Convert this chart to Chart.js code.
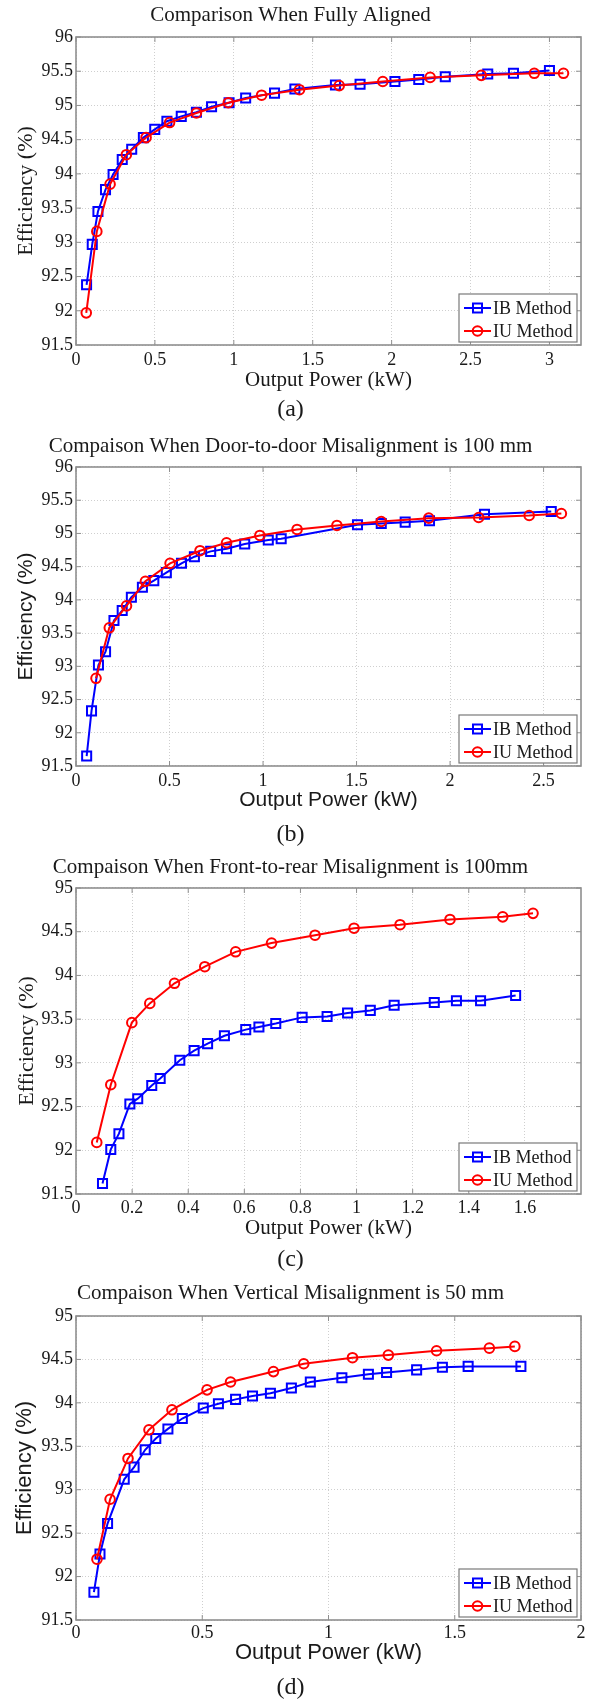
<!DOCTYPE html>
<html><head><meta charset="utf-8">
<script src="https://cdn.jsdelivr.net/npm/chart.js@4.4.1/dist/chart.umd.min.js"></script>
<style>
html,body{margin:0;padding:0;background:#fff;}
body{width:595px;height:1701px;position:relative;overflow:hidden;}
.panel{position:absolute;left:0;width:595px;}
</style></head><body>
<div class="panel" id="pa"><canvas id="ca"></canvas></div>
<div class="panel" id="pb"><canvas id="cb"></canvas></div>
<div class="panel" id="pc"><canvas id="cc"></canvas></div>
<div class="panel" id="pd"><canvas id="cd"></canvas></div>
<script>
// ---------- DATA ----------
const seriesNames = ['IB Method', 'IU Method'];
const xAxisTitle = 'Output Power (kW)';
const yAxisTitle = 'Efficiency (%)';

const titleA = 'Comparison When Fully Aligned';
const titleB = 'Compaison When Door-to-door Misalignment is 100 mm';
const titleC = 'Compaison When Front-to-rear Misalignment is 100mm';
const titleD = 'Compaison When Vertical Misalignment is 50 mm';
const subA = '(a)', subB = '(b)', subC = '(c)', subD = '(d)';

const xTicksA = [0, 0.5, 1, 1.5, 2, 2.5, 3];
const xTicksB = [0, 0.5, 1, 1.5, 2, 2.5];
const xTicksC = [0, 0.2, 0.4, 0.6, 0.8, 1, 1.2, 1.4, 1.6];
const xTicksD = [0, 0.5, 1, 1.5, 2];
const yTicksAB = [91.5, 92, 92.5, 93, 93.5, 94, 94.5, 95, 95.5, 96];
const yTicksCD = [91.5, 92, 92.5, 93, 93.5, 94, 94.5, 95];

// (a) Fully aligned
const ibXA = [0.067,0.103,0.139,0.187,0.235,0.293,0.353,0.427,0.499,0.576,0.667,0.763,0.859,0.970,1.075,1.258,1.387,1.644,1.80,2.021,2.172,2.34,2.609,2.772,3.0];
const ibYA = [92.38,92.97,93.45,93.77,93.99,94.21,94.36,94.53,94.65,94.77,94.84,94.90,94.98,95.04,95.11,95.18,95.24,95.30,95.31,95.35,95.38,95.42,95.46,95.47,95.51];
const iuXA = [0.065,0.132,0.216,0.319,0.444,0.593,0.763,0.965,1.176,1.416,1.668,1.944,2.244,2.568,2.904,3.089];
const iuYA = [91.97,93.16,93.85,94.28,94.53,94.75,94.89,95.04,95.15,95.23,95.29,95.35,95.41,95.44,95.47,95.47];

// (b) Door-to-door 100 mm
const ibXB = [0.057,0.083,0.12,0.158,0.203,0.247,0.296,0.355,0.416,0.483,0.564,0.633,0.72,0.805,0.902,1.028,1.097,1.505,1.632,1.76,1.89,2.184,2.541];
const ibYB = [91.65,92.33,93.02,93.22,93.69,93.84,94.04,94.19,94.29,94.41,94.55,94.65,94.73,94.77,94.84,94.90,94.92,95.13,95.15,95.17,95.19,95.29,95.33];
const iuXB = [0.107,0.178,0.27,0.371,0.503,0.663,0.805,0.983,1.182,1.395,1.632,1.886,2.153,2.423,2.595];
const iuYB = [92.82,93.58,93.91,94.28,94.55,94.74,94.86,94.97,95.06,95.12,95.18,95.23,95.24,95.27,95.30];

// (c) Front-to-rear 100 mm
const ibXC = [0.0945,0.124,0.153,0.192,0.22,0.27,0.30,0.37,0.421,0.469,0.529,0.605,0.652,0.712,0.806,0.895,0.968,1.049,1.134,1.277,1.356,1.442,1.567];
const ibYC = [91.62,92.01,92.19,92.53,92.59,92.74,92.82,93.03,93.14,93.22,93.31,93.38,93.41,93.45,93.52,93.53,93.57,93.60,93.66,93.69,93.71,93.71,93.77];
const iuXC = [0.074,0.124,0.199,0.263,0.351,0.459,0.569,0.697,0.852,0.991,1.155,1.333,1.521,1.629];
const iuYC = [92.09,92.75,93.46,93.68,93.91,94.10,94.27,94.37,94.46,94.54,94.58,94.64,94.67,94.71];

// (d) Vertical 50 mm
const ibXD = [0.071,0.095,0.125,0.191,0.23,0.274,0.316,0.364,0.421,0.504,0.564,0.632,0.699,0.77,0.853,0.928,1.053,1.158,1.23,1.349,1.451,1.553,1.762];
const ibYD = [91.82,92.26,92.61,93.12,93.26,93.46,93.59,93.70,93.82,93.94,93.99,94.04,94.08,94.11,94.17,94.24,94.29,94.33,94.35,94.38,94.41,94.42,94.42];
const iuXD = [0.083,0.135,0.206,0.289,0.38,0.519,0.612,0.782,0.902,1.095,1.237,1.428,1.637,1.738];
const iuYD = [92.20,92.89,93.36,93.69,93.92,94.15,94.24,94.36,94.45,94.52,94.55,94.60,94.63,94.65];

// ---------- STYLE / LAYOUT ----------
const SERIF = '"Liberation Serif", "Times New Roman", serif';
const SANS = '"Liberation Sans", Arial, sans-serif';
const TEXT = '#1a1a1a';
const BOX = '#8f8f8f';
const GRID = '#cfcfcf';
const BLUE = '#0000ff', RED = '#ff0000';
const PLOT_LEFT = 76, PLOT_RIGHT = 581, W = 595;
const TITLE_SIZE = 21, TICK_SIZE = 18, SUB_SIZE = 24, LEG_SIZE = 18;

const panels = [
  {box:'pa', canvas:'ca', lay:{top:0, plotTop:37, plotBottom:345, titleY:15, tickY:360, xTitleY:380, subY:410, yTitleX:26},
   title:titleA, sub:subA, fam:SERIF, xts:21, yts:22, xMax:3.2, xTicks:xTicksA, yMin:91.5, yMax:96, yTicks:yTicksAB,
   ib:[ibXA, ibYA], iu:[iuXA, iuYA]},
  {box:'pb', canvas:'cb', lay:{top:425, plotTop:467, plotBottom:766, titleY:446, tickY:781, xTitleY:800, subY:835, yTitleX:26},
   title:titleB, sub:subB, fam:SANS, xts:21, yts:21, xMax:2.7, xTicks:xTicksB, yMin:91.5, yMax:96, yTicks:yTicksAB,
   ib:[ibXB, ibYB], iu:[iuXB, iuYB]},
  {box:'pc', canvas:'cc', lay:{top:850, plotTop:888, plotBottom:1194, titleY:867, tickY:1208, xTitleY:1228, subY:1260, yTitleX:27},
   title:titleC, sub:subC, fam:SERIF, xts:21, yts:22, xMax:1.8, xTicks:xTicksC, yMin:91.5, yMax:95, yTicks:yTicksCD,
   ib:[ibXC, ibYC], iu:[iuXC, iuYC]},
  {box:'pd', canvas:'cd', lay:{top:1272, plotTop:1316, plotBottom:1620, titleY:1293, tickY:1633, xTitleY:1653, subY:1688, yTitleX:25},
   title:titleD, sub:subD, fam:SANS, xts:22, yts:22, xMax:2, xTicks:xTicksD, yMin:91.5, yMax:95, yTicks:yTicksCD,
   ib:[ibXD, ibYD], iu:[iuXD, iuYD]}
];

const fmt = v => String(Math.round(v * 10) / 10);
const pts = (xs, ys) => xs.map((x, i) => ({x: x, y: ys[i]}));

function framePlugin() {
  return {
    id: 'frameLegend',
    beforeDatasetsDraw(chart) {
      const {ctx, chartArea: a, scales} = chart;
      const x = scales.x, y = scales.y;
      ctx.save();
      ctx.strokeStyle = BOX;
      ctx.lineWidth = 1;
      ctx.beginPath();
      x.ticks.forEach(t => {
        const px = x.getPixelForValue(t.value);
        ctx.moveTo(px, a.bottom); ctx.lineTo(px, a.bottom - 5);
        ctx.moveTo(px, a.top); ctx.lineTo(px, a.top + 5);
      });
      y.ticks.forEach(t => {
        const py = y.getPixelForValue(t.value);
        ctx.moveTo(a.left, py); ctx.lineTo(a.left + 5, py);
        ctx.moveTo(a.right, py); ctx.lineTo(a.right - 5, py);
      });
      ctx.stroke();
      ctx.lineWidth = 1.6;
      ctx.strokeRect(a.left, a.top, a.right - a.left, a.bottom - a.top);
      ctx.restore();
    },
    afterDraw(chart) {
      const {ctx, chartArea: a} = chart;
      const bw = 118, bh = 48;
      const bx = a.right - 4 - bw, by = a.bottom - 3 - bh;
      ctx.save();
      ctx.fillStyle = '#ffffff';
      ctx.fillRect(bx, by, bw, bh);
      ctx.strokeStyle = '#7a7a7a';
      ctx.lineWidth = 1.2;
      ctx.strokeRect(bx, by, bw, bh);
      const rows = [
        {name: seriesNames[0], color: BLUE, shape: 'rect', cy: by + 14},
        {name: seriesNames[1], color: RED, shape: 'circle', cy: by + 37}
      ];
      rows.forEach(r => {
        ctx.strokeStyle = r.color;
        ctx.lineWidth = 2;
        ctx.beginPath();
        ctx.moveTo(bx + 5, r.cy); ctx.lineTo(bx + 32, r.cy);
        ctx.stroke();
        const mx = bx + 18.5;
        ctx.beginPath();
        if (r.shape === 'rect') ctx.rect(mx - 4.5, r.cy - 4.5, 9, 9);
        else ctx.arc(mx, r.cy, 4.8, 0, Math.PI * 2);
        ctx.stroke();
        ctx.fillStyle = TEXT;
        ctx.font = LEG_SIZE + 'px ' + SERIF;
        ctx.textAlign = 'left';
        ctx.textBaseline = 'middle';
        ctx.fillText(r.name, bx + 34, r.cy + 1);
      });
      ctx.restore();
    }
  };
}

function build(p) {
  const L = p.lay;
  const titleLH = TITLE_SIZE * 1.2, xtLH = p.xts * 1.2, ytLH = p.yts * 1.2;
  const tickLH = TICK_SIZE * 1.2, subLH = SUB_SIZE * 1.2;
  const titlePadTop = L.titleY - titleLH / 2 - L.top;
  const titlePadBottom = L.plotTop - (L.titleY + titleLH / 2);
  const xAxisH = (L.xTitleY - L.plotBottom) + xtLH / 2;
  const tickPad = L.tickY - L.plotBottom - tickLH / 2;
  const subPadTop = L.subY - subLH / 2 - (L.plotBottom + xAxisH);
  const height = L.plotBottom + xAxisH + subPadTop + subLH - L.top;
  const div = document.getElementById(p.box);
  div.style.top = L.top + 'px';
  div.style.height = height + 'px';

  new Chart(document.getElementById(p.canvas), {
    type: 'scatter',
    data: {
      datasets: [
        {label: seriesNames[0], data: pts(p.ib[0], p.ib[1]), showLine: true, borderColor: BLUE,
         backgroundColor: 'rgba(0,0,0,0)', borderWidth: 2, pointStyle: 'rect', pointRadius: 6.4,
         pointBorderWidth: 2, pointBorderColor: BLUE, pointBackgroundColor: 'rgba(0,0,0,0)', tension: 0, order: 2},
        {label: seriesNames[1], data: pts(p.iu[0], p.iu[1]), showLine: true, borderColor: RED,
         backgroundColor: 'rgba(0,0,0,0)', borderWidth: 2, pointStyle: 'circle', pointRadius: 4.8,
         pointBorderWidth: 2, pointBorderColor: RED, pointBackgroundColor: 'rgba(0,0,0,0)', tension: 0, order: 1}
      ]
    },
    options: {
      responsive: true, maintainAspectRatio: false, animation: false, events: [],
      layout: {padding: {left: 0, right: W - PLOT_RIGHT, top: 0, bottom: 0}},
      plugins: {
        legend: {display: false}, tooltip: {enabled: false},
        title: {display: true, text: p.title, color: TEXT,
          font: {family: SERIF, size: TITLE_SIZE, weight: 'normal', lineHeight: 1.2},
          padding: {top: titlePadTop, bottom: titlePadBottom}},
        subtitle: {display: true, position: 'bottom', text: p.sub, color: TEXT,
          font: {family: SERIF, size: SUB_SIZE, weight: 'normal', lineHeight: 1.2},
          padding: {top: subPadTop, bottom: 0}}
      },
      scales: {
        x: {
          type: 'linear', min: 0, max: p.xMax,
          afterBuildTicks: s => { s.ticks = p.xTicks.map(v => ({value: v})); },
          afterFit: s => { s.height = xAxisH; },
          grid: {color: GRID, lineWidth: 1, drawTicks: false},
          border: {display: false, dash: [1, 2]},
          ticks: {color: TEXT, padding: tickPad, maxRotation: 0, autoSkip: false,
            font: {family: SERIF, size: TICK_SIZE, lineHeight: 1.2}, callback: v => fmt(v)},
          title: {display: true, text: xAxisTitle, color: TEXT, padding: {top: 0, bottom: 0},
            font: {family: p.fam, size: p.xts, lineHeight: 1.2}}
        },
        y: {
          type: 'linear', min: p.yMin, max: p.yMax,
          afterBuildTicks: s => { s.ticks = p.yTicks.map(v => ({value: v})); },
          afterFit: s => { s.width = PLOT_LEFT; },
          grid: {color: GRID, lineWidth: 1, drawTicks: false},
          border: {display: false, dash: [1, 2]},
          ticks: {color: TEXT, padding: 3, autoSkip: false,
            font: {family: SERIF, size: TICK_SIZE, lineHeight: 1.2}, callback: v => fmt(v)},
          title: {display: true, text: yAxisTitle, color: TEXT, padding: {top: L.yTitleX - ytLH / 2, bottom: 0},
            font: {family: p.fam, size: p.yts, lineHeight: 1.2}}
        }
      }
    },
    plugins: [framePlugin()]
  });
}

panels.forEach(build);
</script>
</body></html>
